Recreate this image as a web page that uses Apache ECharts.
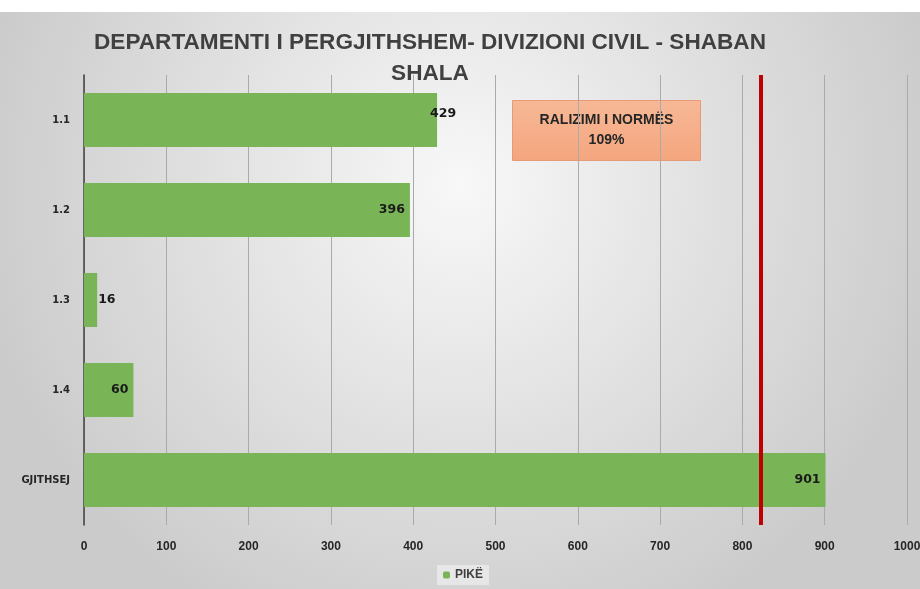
<!DOCTYPE html>
<html lang="sq">
<head>
    <meta charset="utf-8">
    <title>Departamenti i pergjithshem</title>
    <script src="https://cdn.jsdelivr.net/npm/echarts@6/dist/echarts.min.js"></script>
    <style>
        body { margin: 0; background: #fff; }
        #main { width: 920px; height: 577px; margin-top: 12px; }
    </style>
</head>
<body>
    <div id="main"></div>

    <script type="text/javascript">

    // te dhenat
    var kategorite = ['1.1', '1.2', '1.3', '1.4', 'GJITHSEJ'];
    var pike = [429, 396, 16, 60, 901];
    var norma = 822;
    var xTicks = [0, 100, 200, 300, 400, 500, 600, 700, 800, 900, 1000];

    var font = '"Liberation Sans", sans-serif';

    // pozicioni i etiketave si ne origjinal
    var labelPos = {
        0: { position: 'right', offset: [-12, -6] },
        2: { position: 'right', offset: [-4, 0] }
    };

    var myChart = echarts.init(document.getElementById('main'));

    myChart.setOption({
        backgroundColor: {
            type: 'radial', x: 0.5, y: 0.3, r: 0.85,
            colorStops: [
                { offset: 0, color: '#f8f8f8' },
                { offset: 1, color: '#cbcbcb' }
            ]
        },
        textStyle: { fontFamily: font },
        title: {
            text: 'DEPARTAMENTI I PERGJITHSHEM- DIVIZIONI CIVIL - SHABAN\nSHALA',
            left: 425,
            textAlign: 'center',
            top: 10,
            textStyle: {
                fontFamily: font,
                fontSize: 22.6,
                fontWeight: 'bold',
                color: '#404040',
                lineHeight: 31
            }
        },
        legend: {
            data: ['PIKË'],
            bottom: 4,
            left: 437,
            itemWidth: 7,
            itemHeight: 7,
            backgroundColor: 'rgba(235,235,235,0.8)',
            padding: [4, 6],
            textStyle: { fontFamily: font, fontSize: 12, fontWeight: 'bold', color: '#404040' }
        },
        grid: { left: 84, right: 13, top: 63, bottom: 64, outerBoundsMode: 'none' },
        xAxis: {
            type: 'value',
            min: 0,
            max: 1000,
            interval: 100,
            axisLine: { show: false },
            axisTick: { show: false },
            axisLabel: {
                margin: 16,
                fontFamily: font,
                fontWeight: 'bold',
                fontSize: 12,
                color: '#262626',
                formatter: function (v) { return xTicks.indexOf(v) >= 0 ? String(v) : ''; }
            },
            splitLine: { lineStyle: { color: '#aaaaaa', width: 1 } }
        },
        yAxis: {
            type: 'category',
            data: kategorite,
            inverse: true,
            axisLine: { lineStyle: { color: '#404040', width: 1.5 } },
            axisTick: { show: false },
            axisLabel: {
                margin: 14,
                fontFamily: '"DejaVu Sans", sans-serif',
                fontWeight: 'bold',
                fontSize: 10,
                color: '#262626'
            }
        },
        series: [{
            name: 'PIKË',
            type: 'bar',
            barWidth: '60%',
            itemStyle: { color: '#79b457' },
            data: pike.map(function (v, i) {
                var lp = labelPos[i] || { position: 'insideRight', offset: [0, 0] };
                return {
                    value: v,
                    label: { position: lp.position, offset: lp.offset }
                };
            }),
            label: {
                show: true,
                fontFamily: '"DejaVu Sans", sans-serif',
                fontWeight: 'bold',
                fontSize: 12.5,
                color: '#1a1a1a'
            },
            markLine: {
                symbol: 'none',
                silent: true,
                label: { show: false },
                lineStyle: { color: '#c00000', width: 4, type: 'solid' },
                data: [{ xAxis: norma }]
            }
        }],
        graphic: [{
            type: 'group',
            left: 512,
            top: 88,
            children: [{
                type: 'rect',
                shape: { width: 188, height: 60 },
                style: {
                    fill: {
                        type: 'linear', x: 0, y: 0, x2: 0, y2: 1,
                        colorStops: [
                            { offset: 0, color: '#f7b896' },
                            { offset: 1, color: '#f4a67e' }
                        ]
                    },
                    stroke: '#e49b76',
                    lineWidth: 1
                }
            }, {
                type: 'text',
                x: 94,
                y: 30,
                style: {
                    text: 'RALIZIMI I NORMËS\n109%',
                    align: 'center',
                    verticalAlign: 'middle',
                    fontFamily: font,
                    fontWeight: 'bold',
                    fontSize: 14,
                    lineHeight: 20,
                    fill: '#262626'
                }
            }]
        }]
    });

    </script>
</body>
</html>
